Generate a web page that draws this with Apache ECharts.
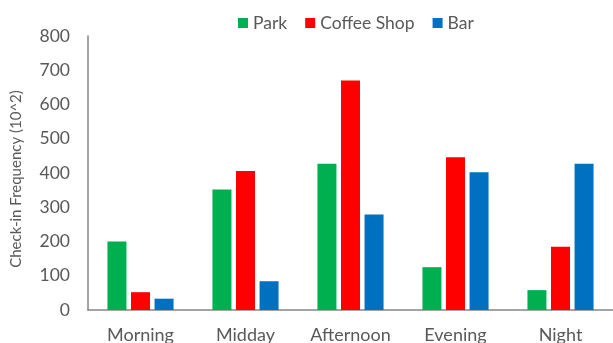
<!DOCTYPE html>
<html>
<head>
<meta charset="utf-8">
<script src="https://cdn.jsdelivr.net/npm/echarts@6/dist/echarts.min.js"></script>
<style>
  html, body { margin: 0; padding: 0; background: #fff; }
  #chart { width: 613px; height: 343px; }
</style>
</head>
<body>
<div id="chart"></div>
<script>
// Time-of-day categories and check-in counts (in hundreds) per venue type
const periods = ['Morning', 'Midday', 'Afternoon', 'Evening', 'Night'];
const park = [200, 352, 427, 125, 58];
const coffeeShop = [52, 406, 670, 446, 185];
const bar = [33, 84, 279, 402, 427];
const yTicks = { min: 0, max: 800, step: 100 };

const textColor = '#595959';
const fontFamily = 'Lato, Carlito, "Liberation Sans", sans-serif';

const chart = echarts.init(document.getElementById('chart'));

function barSeries(name, data, color) {
  return {
    name: name,
    type: 'bar',
    data: data,
    barWidth: 19,
    barGap: '24%',
    itemStyle: { color: color }
  };
}

chart.setOption({
  animation: false,
  textStyle: { fontFamily: fontFamily },
  legend: {
    top: 9,
    left: 233,
    itemWidth: 10,
    itemHeight: 10,
    itemGap: 18,
    icon: 'rect',
    textStyle: { color: textColor, fontSize: 17.5, fontFamily: fontFamily },
    data: ['Park', 'Coffee Shop', 'Bar']
  },
  grid: { left: 88, right: 0, top: 36, bottom: 33, containLabel: false, outerBoundsMode: 'none' },
  xAxis: {
    type: 'category',
    data: periods,
    axisLine: { lineStyle: { color: '#868686', width: 1.5 } },
    axisTick: { show: false },
    axisLabel: { color: textColor, fontSize: 18, margin: 16, interval: 0, fontFamily: fontFamily }
  },
  yAxis: {
    type: 'value',
    min: yTicks.min,
    max: yTicks.max,
    interval: yTicks.step,
    name: 'Check-in Frequency (10^2)',
    nameLocation: 'middle',
    nameGap: 64,
    nameTextStyle: { color: textColor, fontSize: 15, fontFamily: fontFamily, padding: [0, 12, 0, 0] },
    axisLine: { show: true, lineStyle: { color: '#868686', width: 1.5 } },
    axisTick: { show: false },
    splitLine: { show: false },
    axisLabel: { color: textColor, fontSize: 17.5, margin: 18, fontFamily: fontFamily }
  },
  series: [
    barSeries('Park', park, '#00B050'),
    barSeries('Coffee Shop', coffeeShop, '#FF0000'),
    barSeries('Bar', bar, '#0070C0')
  ]
});
</script>
</body>
</html>
